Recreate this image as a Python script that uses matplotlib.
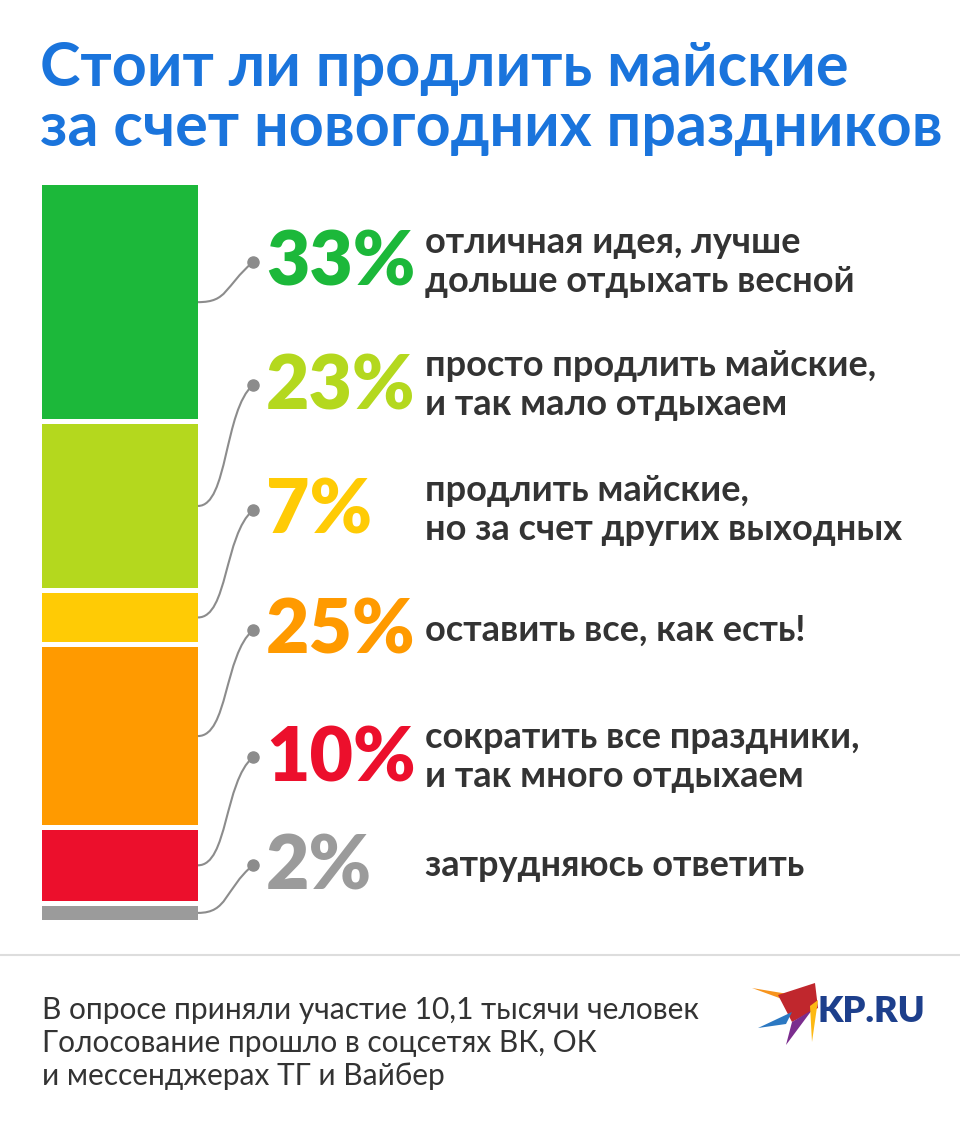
import matplotlib.pyplot as plt
from matplotlib.path import Path
from matplotlib.patches import PathPatch, Polygon, Rectangle

# %% Data
shares = [33, 23, 7, 25, 10, 2]
pct_labels = ['33%', '23%', '7%', '25%', '10%', '2%']
answers = ['отличная идея, лучше\nдольше отдыхать весной',
           'просто продлить майские,\nи так мало отдыхаем',
           'продлить майские,\nно за счет других выходных',
           'оставить все, как есть!',
           'сократить все праздники,\nи так много отдыхаем',
           'затрудняюсь ответить']
colors = ['#1cb83a', '#b4d81e', '#ffcb05', '#ff9a00', '#ec0f2c', '#9b9b9b']
label_y = [262, 385, 510, 630, 757, 865]

plt.rcParams['font.family'] = 'Lato'

fig = plt.figure(figsize=(9.6, 11.36), dpi=100)
fig.set_facecolor('white')
ax = fig.add_axes([0, 0, 1, 1])
ax.set_xlim(0, 960)
ax.set_ylim(1136, 0)
ax.axis('off')

# Title
ax.text(40, 98, 'Стоит ли продлить майские\nза счет новогодних праздников', color='#1a74dc',
        fontsize=44, fontweight='bold', va='center', linespacing=1.08)

# Stacked bar
top, bottom, gap = 185, 920, 5
scale = (bottom - top - gap * (len(shares) - 1)) / sum(shares)
y = top
for share, col, pl, ans, ly in zip(shares, colors, pct_labels, answers, label_y):
    h = share * scale
    ax.add_patch(Rectangle((42, y), 156, h, color=col, lw=0))
    ym = y + h / 2
    # connector
    verts = [(198, ym), (228, ym), (224, ly + 25), (253, ly)]
    ax.add_patch(PathPatch(Path(verts, [Path.MOVETO, Path.CURVE4, Path.CURVE4, Path.CURVE4]),
                           fc='none', ec='#8c8c8c', lw=1.5))
    ax.plot(253, ly, 'o', color='#8c8c8c', ms=8)
    ax.text(266, ly + 2, pl, color=col, fontsize=54, fontweight='heavy', va='center')
    ax.text(425, ly, ans, color='#333333', fontsize=26, fontweight='bold', va='center', linespacing=1.2)
    y += h + gap

# Separator
ax.plot([0, 960], [955, 955], color='#dddddd', lw=1.5)

# Footer
ax.text(42, 1043, 'В опросе приняли участие 10,1 тысячи человек\nГолосование прошло в соцсетях ВК, ОК\nи мессенджерах ТГ и Вайбер',
        color='#333333', fontsize=21.5, va='center', linespacing=1.2)

# Logo
ax.add_patch(Polygon([(752, 988), (800, 996), (812, 1010)], color='#f7941d', lw=0))
ax.add_patch(Polygon([(778, 995), (815, 983), (818, 1008), (792, 1022)], color='#c0272d', lw=0))
ax.add_patch(Polygon([(792, 1022), (812, 1010), (786, 1045)], color='#7b2d8e', lw=0))
ax.add_patch(Polygon([(810, 1006), (818, 1000), (812, 1042)], color='#fdb913', lw=0))
ax.add_patch(Polygon([(758, 1028), (792, 1012), (786, 1024)], color='#2b78c2', lw=0))
ax.text(818, 1012, 'KP.RU', color='#1d3f8c', fontsize=26, fontweight='heavy', va='center')

fig.savefig('out.png', dpi=100)
